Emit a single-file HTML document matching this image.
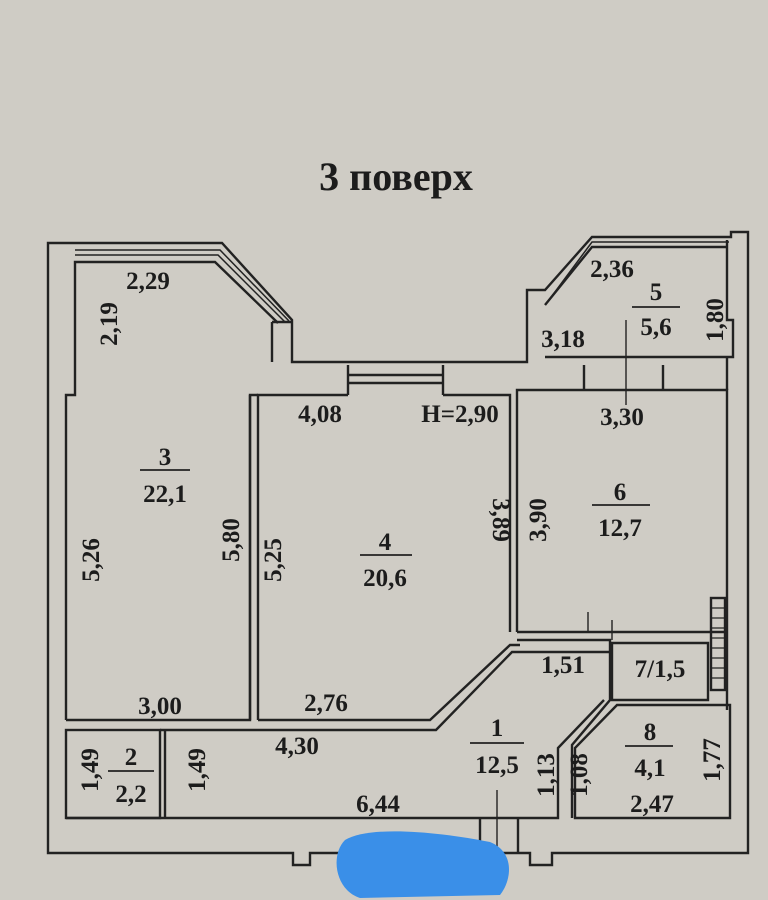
<!DOCTYPE html>
<html><head><meta charset="utf-8"><style>
html,body{margin:0;padding:0;background:#cfccc5;}
svg{display:block}
text{font-family:"Liberation Serif",serif;fill:#1c1c1c;font-size:25px;font-weight:bold;}
</style></head><body>
<svg width="768" height="900" viewBox="0 0 768 900" xmlns="http://www.w3.org/2000/svg">
<rect width="768" height="900" fill="#cfccc5"/>
<text x="396" y="190" text-anchor="middle" style="font-size:40px;font-weight:bold">3 поверх</text>
<g fill="none" stroke="#222" stroke-width="2.4">
<path d="M48,853 V243 H222 L292,320 V362 H527 V290 H545 L592,237 H731 V232 H748 V853 H552 V865 H530 V853 H310 V865 H293 V853 Z"/>
<path d="M66,720 V395 H75 V262 H215 L278,323"/>
<path d="M75,255 H218 L285,322" stroke-width="1.5"/>
<path d="M75,250 H220 L289,321" stroke-width="1.5"/>
<path d="M272,322 H292"/>
<path d="M272,322 V362"/>
<path d="M545,305 L592,247 H728"/>
<path d="M549,300 L592,242 H729" stroke-width="1.5"/>
<path d="M545,357 H733 V320 H727 V240"/>
<path d="M727,357 V390"/>
<path d="M66,720 H250 V395"/>
<path d="M250,720 V395 H258"/>
<path d="M258,720 V395 H348 M443,395 H510 V632"/>
<path d="M348,365 V395 M443,365 V395 M348,375 H443 M348,383 H443"/>
<path d="M258,720 H430 L510,645 H520"/>
<path d="M250,730 H436 L512,652 H610"/>
<path d="M517,632 V390 H727 V710"/>
<path d="M584,365 V390 M663,365 V390"/>
<path d="M517,632 H727"/>
<path d="M517,640 H610 V700 L572,745 V818"/>
<path d="M612,643 H708 V700 H612 Z"/>
<rect x="711" y="598" width="14" height="92"/>
<path d="M711,608 H725 M711,618 H725 M711,628 H725 M711,638 H725 M711,648 H725 M711,658 H725 M711,668 H725 M711,678 H725" stroke-width="1.2"/>
<path d="M617,705 H730 V818 H575 V748 Z"/>
<path d="M66,818 H558 V748 L604,700"/>
<rect x="66" y="730" width="94" height="88"/>
<path d="M165,730 V818"/>
<path d="M160,730 H250"/>
<path d="M480,818 V853 M518,818 V853"/>
<path d="M497,790 V875" stroke-width="1.4"/>
<path d="M626,320 V405" stroke-width="1.4"/>
<path d="M588,612 V632 M612,620 V640" stroke-width="1.4"/>
</g>
<g stroke="#222" stroke-width="1.8">
<line x1="140" y1="470" x2="190" y2="470"/>
<line x1="360" y1="555" x2="412" y2="555"/>
<line x1="592" y1="505" x2="650" y2="505"/>
<line x1="632" y1="307" x2="680" y2="307"/>
<line x1="108" y1="771" x2="154" y2="771"/>
<line x1="470" y1="743" x2="524" y2="743"/>
<line x1="625" y1="746" x2="673" y2="746"/>
</g>
<g text-anchor="middle">
<text x="148" y="289">2,29</text>
<text x="165" y="465">3</text><text x="165" y="502">22,1</text>
<text x="385" y="550">4</text><text x="385" y="586">20,6</text>
<text x="620" y="500">6</text><text x="620" y="536">12,7</text>
<text x="656" y="300">5</text><text x="656" y="335">5,6</text>
<text x="612" y="277">2,36</text>
<text x="563" y="347">3,18</text>
<text x="320" y="422">4,08</text>
<text x="460" y="422">Н=2,90</text>
<text x="622" y="425">3,30</text>
<text x="160" y="714">3,00</text>
<text x="326" y="711">2,76</text>
<text x="297" y="754">4,30</text>
<text x="378" y="812">6,44</text>
<text x="497" y="736">1</text><text x="497" y="773">12,5</text>
<text x="563" y="673">1,51</text>
<text x="660" y="677">7/1,5</text>
<text x="650" y="740">8</text><text x="650" y="776">4,1</text>
<text x="652" y="812">2,47</text>
<text x="131" y="765">2</text><text x="131" y="802">2,2</text>
</g>
<g text-anchor="middle">
<text transform="translate(117,324) rotate(-90)">2,19</text>
<text transform="translate(99,560) rotate(-90)">5,26</text>
<text transform="translate(239,540) rotate(-90)">5,80</text>
<text transform="translate(281,560) rotate(-90)">5,25</text>
<text transform="translate(493,520) rotate(90)">3,89</text>
<text transform="translate(546,520) rotate(-90)">3,90</text>
<text transform="translate(723,320) rotate(-90)">1,80</text>
<text transform="translate(98,770) rotate(-90)">1,49</text>
<text transform="translate(205,770) rotate(-90)">1,49</text>
<text transform="translate(554,775) rotate(-90)">1,13</text>
<text transform="translate(587,775) rotate(-90)">1,08</text>
<text transform="translate(720,760) rotate(-90)">1,77</text>
</g>
<path d="M345,840 C370,825 440,832 490,842 C515,852 512,880 500,895 L360,898 C335,890 330,855 345,840 Z" fill="#3a8fe8"/>
</svg>
</body></html>
